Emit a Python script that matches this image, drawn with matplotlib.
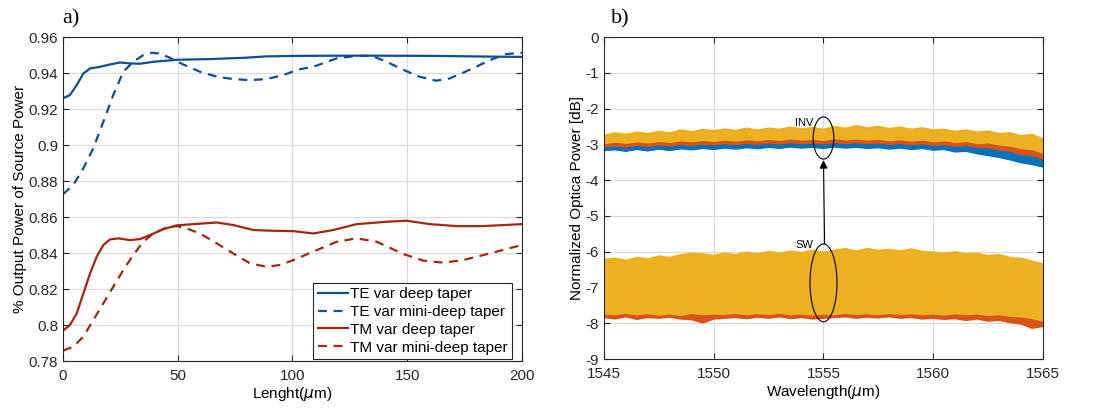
import numpy as np
import matplotlib
matplotlib.use("Agg")
import matplotlib.pyplot as plt
from matplotlib.patches import Ellipse
from matplotlib.ticker import FormatStrFormatter

plt.rcParams['font.family'] = ['Liberation Sans', 'DejaVu Sans']
plt.rcParams['axes.unicode_minus'] = False

# ---- panel a) datos
x_te_deep = [0, 3, 6, 8.9, 11.8, 16.1, 20.5, 24.8, 29.2, 33.6, 39.4, 49.5, 64, 78.6,
             88.7, 103.3, 130, 160, 185, 200]
te_deep = [0.926, 0.9278, 0.9334, 0.9398, 0.9426, 0.9435, 0.9448, 0.9459, 0.9454,
           0.9452, 0.9463, 0.9474, 0.9478, 0.9485, 0.9493, 0.9496, 0.9497, 0.9496,
           0.9492, 0.9490]

x_te_mini = [0, 4.5, 8.9, 13.2, 17.6, 21.9, 26.3, 30.6, 35, 38.6, 42.3, 46.6, 52.4,
             59.7, 67, 74.2, 81.5, 88.7, 96, 102.5, 109, 119.3, 128, 134.5, 141,
             149.6, 155.4, 162.6, 168.4, 174.3, 180, 185.9, 193.2, 200]
te_mini = [0.8727, 0.8779, 0.8871, 0.8982, 0.913, 0.9278, 0.9408, 0.9463, 0.950,
           0.9513, 0.9509, 0.9485, 0.9448, 0.9408, 0.938, 0.9367, 0.9361, 0.9367,
           0.9389, 0.9420, 0.9435, 0.9482, 0.9496, 0.9496, 0.9463, 0.9411, 0.938,
           0.9358, 0.937, 0.9402, 0.9435, 0.9472, 0.9506, 0.9513]

x_tm_deep = [0, 3, 6, 8.9, 11.8, 14.7, 17.6, 20.5, 24.1, 29.2, 33.6, 37.9, 43.7,
             49.5, 56.8, 67, 74.2, 83, 91.7, 100.4, 109, 117.7, 128, 141, 149.6,
             159.8, 171.4, 183, 200]
tm_deep = [0.7969, 0.800, 0.8065, 0.8176, 0.8287, 0.838, 0.8445, 0.8476, 0.8482,
           0.8472, 0.8478, 0.850, 0.8533, 0.8554, 0.8561, 0.857, 0.8556, 0.8528,
           0.8524, 0.8522, 0.8509, 0.8528, 0.8561, 0.8574, 0.858, 0.8561, 0.855,
           0.855, 0.8561]

x_tm_mini = [0, 4.5, 8.9, 13.2, 17.6, 21.9, 26.3, 30.6, 35, 39.4, 45.2, 49.5, 53.9,
             59.7, 67, 74.2, 81.5, 88.7, 94.5, 100.4, 109, 119.3, 128, 136.7, 148.3,
             157, 165.7, 174.3, 185.9, 200]
tm_mini = [0.7858, 0.788, 0.7936, 0.8028, 0.8121, 0.8213, 0.8306, 0.8389, 0.8463,
           0.8509, 0.8543, 0.855, 0.8537, 0.8509, 0.8454, 0.8398, 0.8343, 0.8324,
           0.8334, 0.8361, 0.8408, 0.8463, 0.8482, 0.8463, 0.8395, 0.8358, 0.8347,
           0.8361, 0.8398, 0.8445]

# ---- panel b) envolventes leidas cada 0.5 nm (1545 a 1565)
wl = np.linspace(1545, 1565, 41)
inv_top = [-2.75, -2.68, -2.72, -2.66, -2.70, -2.64, -2.68, -2.60, -2.65, -2.58,
           -2.62, -2.57, -2.61, -2.55, -2.60, -2.55, -2.58, -2.52, -2.57, -2.53,
           -2.58, -2.50, -2.55, -2.48, -2.54, -2.50, -2.56, -2.52, -2.58, -2.54,
           -2.60, -2.58, -2.64, -2.60, -2.66, -2.63, -2.70, -2.68, -2.76, -2.72, -2.85]
inv_yel_low = [-2.98, -2.94, -2.97, -2.93, -2.96, -2.92, -2.95, -2.90, -2.93, -2.89,
               -2.92, -2.88, -2.91, -2.87, -2.90, -2.86, -2.89, -2.85, -2.88, -2.86,
               -2.89, -2.84, -2.88, -2.85, -2.88, -2.86, -2.90, -2.87, -2.91, -2.88,
               -2.93, -2.90, -2.95, -2.92, -2.98, -2.96, -3.02, -3.05, -3.12, -3.15, -3.25]
inv_ora_low = [-3.06, -3.03, -3.07, -3.02, -3.05, -3.01, -3.04, -2.99, -3.02, -2.98,
               -3.01, -2.97, -3.00, -2.96, -2.99, -2.95, -2.98, -2.94, -2.97, -2.95,
               -2.98, -2.93, -2.97, -2.94, -2.97, -2.95, -2.99, -2.96, -3.00, -2.97,
               -3.02, -3.00, -3.05, -3.02, -3.08, -3.08, -3.15, -3.18, -3.28, -3.30, -3.40]
inv_blu_low = [-3.16, -3.14, -3.18, -3.13, -3.17, -3.12, -3.16, -3.11, -3.14, -3.10,
               -3.13, -3.09, -3.12, -3.08, -3.11, -3.07, -3.10, -3.06, -3.09, -3.07,
               -3.10, -3.06, -3.09, -3.07, -3.10, -3.08, -3.12, -3.09, -3.13, -3.10,
               -3.15, -3.13, -3.20, -3.18, -3.25, -3.30, -3.35, -3.42, -3.50, -3.55, -3.62]

sw_top = [-6.25, -6.22, -6.28, -6.20, -6.24, -6.16, -6.20, -6.12, -6.08, -6.10,
          -6.14, -6.08, -6.12, -6.05, -6.10, -6.03, -6.08, -6.02, -6.06, -6.00,
          -6.05, -6.00, -5.95, -6.02, -5.95, -6.00, -5.97, -6.02, -5.96, -6.03,
          -6.05, -6.08, -6.04, -6.10, -6.08, -6.15, -6.12, -6.20, -6.22, -6.30, -6.38]
sw_yel_low = [-7.70, -7.72, -7.68, -7.72, -7.69, -7.73, -7.70, -7.74, -7.68, -7.72,
              -7.70, -7.71, -7.68, -7.72, -7.69, -7.71, -7.68, -7.72, -7.70, -7.73,
              -7.70, -7.72, -7.68, -7.71, -7.69, -7.72, -7.68, -7.71, -7.69, -7.72,
              -7.70, -7.73, -7.69, -7.72, -7.70, -7.74, -7.72, -7.76, -7.78, -7.82, -7.90]
sw_ora_low = [-7.80, -7.84, -7.78, -7.85, -7.80, -7.82, -7.79, -7.84, -7.86, -7.95,
              -7.84, -7.82, -7.80, -7.83, -7.79, -7.82, -7.78, -7.83, -7.80, -7.84,
              -7.82, -7.80, -7.78, -7.82, -7.79, -7.81, -7.78, -7.82, -7.80, -7.84,
              -7.82, -7.85, -7.83, -7.88, -7.84, -7.90, -7.88, -7.94, -7.98, -8.10, -8.05]
sw_blu_top = [-6.22, -6.25, -6.26, -6.20, -6.22, -6.18, -6.18, -6.10, -6.05, -6.10,
              -6.15, -6.10, -6.12, -6.08, -6.10, -6.05, -6.08, -6.05, -6.07, -6.03,
              -6.07, -6.05, -6.00, -6.04, -6.00, -6.03, -6.00, -6.04, -6.00, -6.05,
              -6.08, -6.10, -6.06, -6.12, -6.10, -6.15, -6.12, -6.18, -6.22, -6.28, -6.35]

azul = '#0b4f94'
rojo = '#a3260f'
m_azul = '#0072bd'
m_nar = '#d95319'
m_ama = '#edb120'

fig = plt.figure(figsize=(11.01, 4.08), dpi=100)
ax1 = fig.add_axes([0.0572, 0.115, 0.4169, 0.794])
ax2 = fig.add_axes([0.5486, 0.120, 0.3987, 0.789])

# ---- a)
ax1.plot(x_te_deep, te_deep, color=azul, lw=1.6, label='TE var deep taper')
ax1.plot(x_te_mini, te_mini, color=azul, lw=1.6, ls=(0, (4, 3)), label='TE var mini-deep taper')
ax1.plot(x_tm_deep, tm_deep, color=rojo, lw=1.6, label='TM var deep taper')
ax1.plot(x_tm_mini, tm_mini, color=rojo, lw=1.6, ls=(0, (4, 3)), label='TM var mini-deep taper')
ax1.set_xlim(0, 200)
ax1.set_ylim(0.78, 0.96)
ax1.set_xticks(np.arange(0, 201, 50))
ax1.set_yticks(np.arange(0.78, 0.9601, 0.02))
ax1.yaxis.set_major_formatter(FormatStrFormatter('%g'))
ax1.set_xlabel(r'Lenght($\mu$m)', fontsize=11, labelpad=1)
ax1.set_ylabel('% Output Power of Source Power', fontsize=11, labelpad=1)
leg = ax1.legend(loc='lower right', bbox_to_anchor=(0.978, 0.006), fontsize=11,
                 fancybox=False, framealpha=1, edgecolor='#262626',
                 handlelength=2.0, handletextpad=0.1, labelspacing=0.25,
                 borderpad=0.3, borderaxespad=0)
leg.get_frame().set_linewidth(0.8)
fig.text(0.0563, 0.955, 'a)', fontsize=16, family='Liberation Serif', va='center')

# ---- b)
ax2.fill_between(wl, inv_blu_low, inv_top, color=m_azul, lw=0)
ax2.fill_between(wl, inv_ora_low, inv_top, color=m_nar, lw=0)
ax2.fill_between(wl, inv_yel_low, inv_top, color=m_ama, lw=0)
ax2.plot(wl, inv_blu_low, color=m_azul, lw=1.5)
ax2.plot(wl, inv_ora_low, color=m_nar, lw=1.2)
ax2.plot(wl, inv_top, color=m_ama, lw=1.2)

ax2.fill_between(wl, sw_yel_low, sw_blu_top, color=m_azul, lw=0)
ax2.fill_between(wl, sw_ora_low, sw_top, color=m_nar, lw=0)
ax2.plot(wl, sw_ora_low, color=m_nar, lw=3, solid_capstyle='round')
ax2.fill_between(wl, sw_yel_low, sw_top, color=m_ama, lw=0)
ax2.plot(wl, sw_top, color=m_ama, lw=3, solid_capstyle='round')
ax2.plot(wl, sw_yel_low, color=m_ama, lw=3, solid_capstyle='round')

ax2.add_patch(Ellipse((1555, -2.82), 0.94, 1.18, fill=False, ec='black', lw=0.8, zorder=5))
ax2.add_patch(Ellipse((1555, -6.87), 1.23, 2.18, fill=False, ec='black', lw=0.8, zorder=5))
ax2.annotate('', xy=(1555, -3.44), xytext=(1555.05, -5.78),
             arrowprops=dict(arrowstyle='-|>', color='black', lw=0.8,
                             mutation_scale=12, shrinkA=0, shrinkB=0), zorder=6)
ax2.text(1554.55, -2.4, 'INV', fontsize=8, ha='right', va='center', zorder=6)
ax2.text(1554.55, -5.82, 'SW', fontsize=8, ha='right', va='center', zorder=6)

ax2.set_xlim(1545, 1565)
ax2.set_ylim(-9, 0)
ax2.set_xticks(np.arange(1545, 1566, 5))
ax2.set_yticks(np.arange(-9, 1, 1))
ax2.set_xlabel(r'Wavelength($\mu$m)', fontsize=11, labelpad=1)
ax2.set_ylabel('Normalized Optica Power [dB]', fontsize=11, labelpad=1)
fig.text(0.555, 0.955, 'b)', fontsize=16, family='Liberation Serif', va='center')

for ax in (ax1, ax2):
    ax.grid(True, color='#d9d9d9', lw=0.8)
    ax.set_axisbelow(True)
    ax.tick_params(direction='in', length=4, labelsize=11, colors='#262626',
                   top=True, right=True)
    ax.tick_params(axis='x', pad=6)
    for s in ax.spines.values():
        s.set_color('#262626')
        s.set_linewidth(0.8)

fig.savefig('out.png', dpi=100)
